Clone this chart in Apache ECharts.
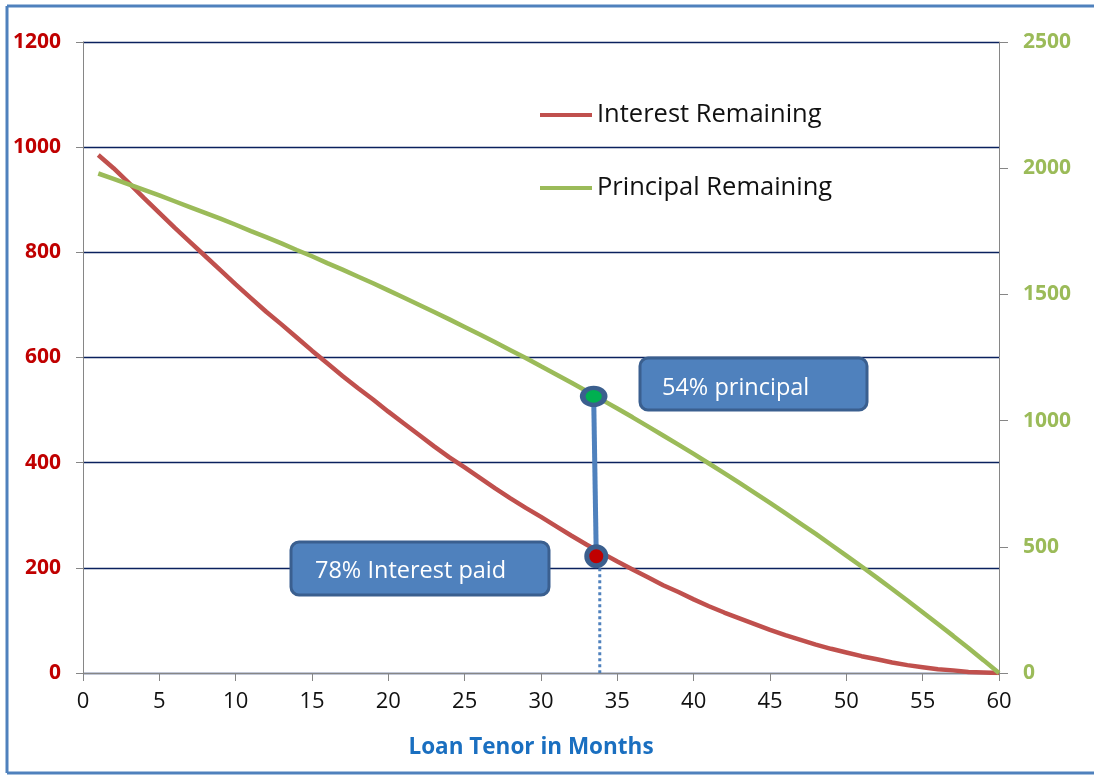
<!DOCTYPE html>
<html>
<head>
<meta charset="utf-8">
<script src="https://cdn.jsdelivr.net/npm/echarts@6/dist/echarts.min.js"></script>
<style>
  html, body { margin: 0; padding: 0; background: #ffffff; overflow: hidden; }
  #chart { width: 1094px; height: 776px; }
</style>
</head>
<body>
<div id="chart"></div>
<script>
// Loan schedule: month number, interest still to be paid, principal still owed
const months = [1, 2, 3, 4, 5, 6, 7, 8, 9, 10, 11, 12, 13, 14, 15, 16, 17, 18, 19, 20,
  21, 22, 23, 24, 25, 26, 27, 28, 29, 30, 31, 32, 33, 34, 35, 36, 37, 38, 39, 40,
  41, 42, 43, 44, 45, 46, 47, 48, 49, 50, 51, 52, 53, 54, 55, 56, 57, 58, 59, 60];
const interestRemaining = [985, 960, 932, 903, 875, 847, 820, 793, 766, 739,
  713, 687, 663, 638, 613, 589, 565, 542, 520, 497,
  475, 453, 431, 410, 391, 371, 351, 332, 314, 297,
  279, 261, 244, 228, 212, 197, 182, 167, 154, 140,
  127, 115, 104, 93, 82, 72, 63, 54, 46, 39,
  32, 26, 20, 15, 11, 7, 5, 2, 1, 0];
const principalRemaining = [1979, 1958, 1936, 1914, 1892, 1869, 1846, 1823, 1800, 1776,
  1751, 1727, 1702, 1676, 1651, 1624, 1598, 1571, 1544, 1516,
  1488, 1459, 1430, 1401, 1371, 1341, 1310, 1279, 1248, 1215,
  1183, 1150, 1116, 1082, 1048, 1013, 977, 941, 905, 868,
  830, 792, 753, 714, 674, 633, 592, 551, 508, 465,
  422, 378, 333, 287, 241, 194, 147, 99, 50, 0];

// Highlighted moment in the schedule
const principalMarker = [33.45, 1096];   // on the principal (right) scale
const interestMarker = [33.62, 222];     // on the interest (left) scale
const dropLineX = 33.85;

const seriesNames = ['Interest Remaining', 'Principal Remaining'];
const principalNote = '54% principal';
const interestNote = '78% Interest paid';
const xTitle = 'Loan Tenor in Months';

const FONT = "'Open Sans', 'Liberation Sans', sans-serif";
const AXIS_GREY = '#868686';
const GRID_NAVY = '#0a215e';
const FRAME_BLUE = '#4f81bd';
const plainNumber = (v) => String(v);

const chart = echarts.init(document.getElementById('chart'), null, { renderer: 'canvas' });

chart.setOption({
  animation: false,
  backgroundColor: '#ffffff',
  grid: { left: 83, right: 95, top: 42, bottom: 103 },
  legend: {
    data: seriesNames,
    orient: 'vertical',
    left: 540,
    top: 102,
    padding: 0,
    icon: 'rect',
    itemWidth: 52,
    itemHeight: 4,
    itemGap: 47,
    textStyle: { fontFamily: FONT, fontSize: 25.5, color: '#111111' },
    selectedMode: false
  },
  xAxis: {
    type: 'value',
    min: 0,
    max: 60,
    interval: 5,
    name: xTitle,
    nameLocation: 'middle',
    nameGap: 63,
    nameTextStyle: { fontFamily: FONT, fontSize: 22.5, fontWeight: 'bold', color: '#1a6fc0', padding: [0, 20, 0, 0] },
    axisLine: { show: true, onZero: false, lineStyle: { color: AXIS_GREY, width: 1 } },
    axisTick: { show: true, inside: false, length: 8, lineStyle: { color: AXIS_GREY } },
    axisLabel: { fontFamily: FONT, fontSize: 22, color: '#111111', margin: 18, formatter: plainNumber },
    splitLine: { show: false }
  },
  yAxis: [
    {
      type: 'value',
      position: 'left',
      min: 0,
      max: 1200,
      interval: 200,
      axisLine: { show: true, lineStyle: { color: AXIS_GREY, width: 1 } },
      axisTick: { show: true, inside: false, length: 7, lineStyle: { color: AXIS_GREY } },
      axisLabel: { fontFamily: FONT, fontSize: 21, fontWeight: 'bold', color: '#c00000', margin: 22, formatter: plainNumber },
      splitLine: { show: true, lineStyle: { color: GRID_NAVY, width: 1.4 } }
    },
    {
      type: 'value',
      position: 'right',
      min: 0,
      max: 2500,
      interval: 500,
      axisLine: { show: true, lineStyle: { color: AXIS_GREY, width: 1 } },
      axisTick: { show: true, inside: false, length: 9, lineStyle: { color: AXIS_GREY } },
      axisLabel: { fontFamily: FONT, fontSize: 21, fontWeight: 'bold', color: '#9bbb59', margin: 24, formatter: plainNumber },
      splitLine: { show: false }
    }
  ],
  series: [
    {
      name: seriesNames[0],
      type: 'line',
      yAxisIndex: 0,
      data: months.map((m, i) => [m, interestRemaining[i]]),
      showSymbol: false,
      lineStyle: { color: '#c0504d', width: 4.5 },
      itemStyle: { color: '#c0504d' },
      z: 3
    },
    {
      name: seriesNames[1],
      type: 'line',
      yAxisIndex: 1,
      data: months.map((m, i) => [m, principalRemaining[i]]),
      showSymbol: false,
      lineStyle: { color: '#9bbb59', width: 4.5 },
      itemStyle: { color: '#9bbb59' },
      z: 3
    },
    {
      // dotted drop from the interest marker to the month axis
      type: 'line',
      yAxisIndex: 0,
      data: [[dropLineX, interestMarker[1]], [dropLineX, 0]],
      showSymbol: false,
      silent: true,
      lineStyle: { color: '#4f81bd', width: 3, type: [3, 3] },
      z: 4
    },
    {
      type: 'scatter',
      yAxisIndex: 1,
      data: [principalMarker],
      symbol: 'circle',
      symbolSize: [22, 17],
      silent: true,
      itemStyle: { color: '#00b050', borderColor: '#3b5f8e', borderWidth: 5, opacity: 1 },
      z: 6
    },
    {
      type: 'scatter',
      yAxisIndex: 0,
      data: [interestMarker],
      symbol: 'circle',
      symbolSize: 19,
      silent: true,
      itemStyle: { color: '#c00000', borderColor: '#3b5f8e', borderWidth: 5, opacity: 1 },
      z: 6
    }
  ]
});

// Connector and call-out boxes placed from the axes' own coordinate conversion
const pTop = chart.convertToPixel({ seriesIndex: 3 }, principalMarker);
const pBottom = chart.convertToPixel({ seriesIndex: 4 }, interestMarker);

function callout(x, y, w, h, text, textX, textY) {
  return [
    {
      type: 'rect',
      shape: { x: x, y: y, width: w, height: h, r: 8 },
      style: { fill: '#4f81bd', stroke: '#3a5f8f', lineWidth: 3 },
      silent: true,
      z: 20
    },
    {
      type: 'text',
      x: textX,
      y: textY,
      style: {
        text: text,
        fill: '#ffffff',
        fontFamily: FONT,
        fontSize: 23.5,
        verticalAlign: 'middle',
        align: 'left'
      },
      silent: true,
      z: 21
    }
  ];
}

function frameEdge(x1, y1, x2, y2) {
  return {
    type: 'line',
    shape: { x1: x1, y1: y1, x2: x2, y2: y2 },
    style: { stroke: FRAME_BLUE, lineWidth: 3 },
    silent: true,
    z: 30
  };
}

chart.setOption({
  graphic: [
    // frame: left, top and bottom edges
    frameEdge(7, 6, 1094, 6),
    frameEdge(7, 6, 7, 773),
    frameEdge(7, 773, 1094, 773),
    {
      type: 'line',
      shape: { x1: pTop[0], y1: pTop[1], x2: pBottom[0], y2: pBottom[1] },
      style: { stroke: '#4f81bd', lineWidth: 5 },
      silent: true,
      z: 5
    }
  ].concat(
    callout(640, 358, 227, 52, principalNote, 662, 388),
    callout(291, 542, 258, 53, interestNote, 315, 571)
  )
});
</script>
</body>
</html>
